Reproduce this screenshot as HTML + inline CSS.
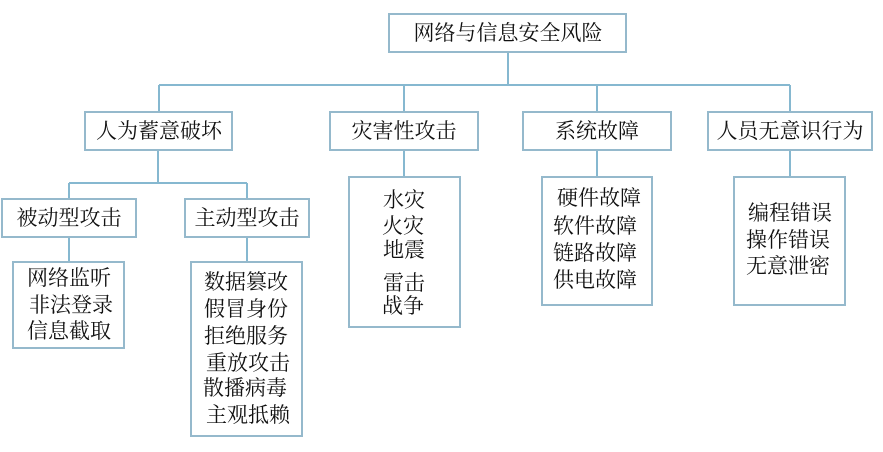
<!DOCTYPE html>
<html><head><meta charset="utf-8"><style>
html,body{margin:0;padding:0;background:#fff;}
svg text{font-family:"Liberation Serif","Noto Serif CJK SC","Noto Sans CJK SC",serif;fill:#111;text-anchor:middle;dominant-baseline:central;}
</style></head><body>
<svg width="883" height="447" viewBox="0 0 883 447" xmlns="http://www.w3.org/2000/svg">
<g stroke="#86b8d0" stroke-width="2" fill="none">
<path d="M508 52V85M159 85H790M159 85V112M404 85V112M597 85V112M790 85V112"/>
<path d="M158 150V183M69 183H247M69 183V199M247 183V199"/>
<path d="M69 237V262M247 237V262M404 150V177M597 150V177M790 150V177"/>
</g>
<g stroke="#95b9cc" stroke-width="2" fill="#fff">
<rect x="389" y="14" width="237" height="38"/>
<rect x="85" y="112" width="147" height="38"/>
<rect x="330" y="112" width="148" height="38"/>
<rect x="523" y="112" width="148" height="38"/>
<rect x="708" y="112" width="164" height="38"/>
<rect x="2" y="199" width="134" height="38"/>
<rect x="185" y="199" width="124" height="38"/>
<rect x="13" y="262" width="111" height="86"/>
<rect x="191" y="262" width="111" height="174"/>
<rect x="349" y="177" width="111" height="150"/>
<rect x="542" y="177" width="110" height="128"/>
<rect x="734" y="177" width="111" height="128"/>
</g>
<g font-size="21">
<text x="508" y="33">网络与信息安全风险</text>
<text x="159" y="131">人为蓄意破坏</text>
<text x="404" y="131">灾害性攻击</text>
<text x="597" y="131">系统故障</text>
<text x="790" y="131">人员无意识行为</text>
<text x="69" y="218">被动型攻击</text>
<text x="247" y="218">主动型攻击</text>
</g>
<g font-size="21">
<text x="69" y="278">网络监听</text>
<text x="71" y="305">非法登录</text>
<text x="69" y="331">信息截取</text>
<text x="246" y="282">数据篡改</text>
<text x="246" y="309">假冒身份</text>
<text x="246" y="336">拒绝服务</text>
<text x="248" y="363">重放攻击</text>
<text x="245" y="388">散播病毒</text>
<text x="248" y="415">主观抵赖</text>
<text x="404" y="200">水灾</text>
<text x="403" y="226">火灾</text>
<text x="404" y="250">地震</text>
<text x="404" y="283">雷击</text>
<text x="403" y="306">战争</text>
<text x="599" y="198">硬件故障</text>
<text x="595" y="226">软件故障</text>
<text x="595" y="253">链路故障</text>
<text x="595" y="280">供电故障</text>
<text x="790" y="213">编程错误</text>
<text x="788" y="240">操作错误</text>
<text x="788" y="266">无意泄密</text>
</g>
</svg>
</body></html>
